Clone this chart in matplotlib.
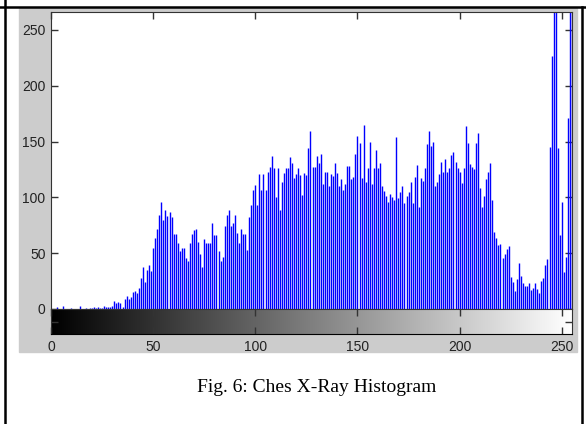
import matplotlib
matplotlib.use("Agg")
import matplotlib.pyplot as plt
import numpy as np
from matplotlib.patches import Rectangle
from matplotlib.lines import Line2D

plt.rcParams['font.family'] = ['Liberation Sans', 'DejaVu Sans']

# histogram counts for grey levels 0..255
counts = [
    0, 0, 0, 2, 0, 0, 3, 0, 0, 0, 1, 0, 0, 0, 3, 0,
    0, 1, 0, 1, 1, 2, 1, 2, 1, 1, 3, 2, 2, 2, 3, 7,
    5, 6, 5, 2, 9, 12, 9, 11, 15, 16, 14, 19, 28, 38, 24, 35,
    39, 34, 55, 64, 72, 84, 96, 80, 89, 83, 87, 82, 67, 67, 59, 52,
    55, 55, 46, 43, 59, 67, 71, 72, 60, 49, 38, 63, 59, 59, 59, 77,
    66, 66, 52, 43, 47, 74, 84, 89, 74, 77, 84, 68, 59, 72, 67, 67,
    53, 82, 93, 107, 111, 93, 121, 107, 121, 107, 123, 127, 137, 126, 100, 126,
    89, 114, 122, 126, 126, 136, 131, 117, 121, 126, 120, 102, 122, 120, 144, 159,
    127, 127, 137, 131, 139, 112, 123, 123, 110, 121, 119, 131, 122, 110, 116, 107,
    112, 128, 128, 116, 118, 139, 155, 149, 117, 165, 114, 126, 150, 112, 126, 142,
    126, 131, 110, 106, 101, 96, 103, 100, 98, 154, 99, 105, 110, 95, 101, 105,
    114, 95, 118, 129, 91, 117, 115, 126, 148, 159, 146, 150, 110, 114, 121, 132,
    123, 134, 123, 126, 138, 141, 132, 126, 123, 113, 126, 164, 149, 130, 127, 125,
    149, 158, 108, 91, 101, 116, 123, 131, 98, 69, 64, 57, 58, 46, 49, 54,
    56, 29, 24, 16, 27, 41, 30, 23, 21, 21, 23, 17, 19, 23, 18, 14,
    25, 28, 39, 45, 145, 227, 300, 290, 144, 66, 96, 33, 47, 171, 310, 290,
]
bins = np.arange(256)
xticks = [0, 50, 100, 150, 200, 250]
yticks = [0, 50, 100, 150, 200, 250]
caption = 'Fig. 6: Ches X-Ray Histogram'

W, H = 586.0, 424.0
fig = plt.figure(figsize=(W / 100, H / 100), dpi=100)
fig.patch.set_facecolor('white')

# matlab grey figure panel
fig.add_artist(Rectangle((19 / W, 1 - 352 / H), 558 / W, 344 / H,
                         transform=fig.transFigure, color='#cccccc', zorder=0))
# table cell borders
fig.add_artist(Line2D([0, 1], [1 - 7 / H] * 2, transform=fig.transFigure, color='k', lw=1.8))
fig.add_artist(Line2D([4.5 / W] * 2, [0, 1], transform=fig.transFigure, color='k', lw=1.8))
fig.add_artist(Line2D([582 / W] * 2, [0, 1 - 7 / H], transform=fig.transFigure, color='k', lw=1.8))

edge = '#333333'
txt = '#222222'

# histogram stems
ax = fig.add_axes([51 / W, 1 - 309 / H, 521 / W, 297 / H])
ax.set_facecolor('white')
ax.vlines(bins, 0, counts, color='#0000ff', lw=1.0)
ax.set_xlim(0, 255)
ax.set_ylim(0, 266)
ax.set_xticks(xticks)
ax.set_yticks(yticks)
ax.tick_params(direction='in', length=5, width=1, top=True, right=True, bottom=False,
               labelbottom=False, labelsize=10, pad=4, color=edge, labelcolor=txt)
for s in ax.spines.values():
    s.set_color(edge)

# grey level bar underneath
cax = fig.add_axes([51 / W, 1 - 334 / H, 521 / W, 25 / H])
grad = np.linspace(0, 1, 256)[None, :]
cax.imshow(grad, cmap='gray', aspect='auto', extent=[0, 255, 0, 1], vmin=0, vmax=1)
cax.set_xlim(0, 255)
cax.set_ylim(0, 1)
cax.set_xticks(xticks)
cax.set_yticks([0.5])
cax.tick_params(direction='in', length=5, width=1, top=True, right=True, left=True,
                labelleft=False, labelsize=10, pad=4, color=edge, labelcolor=txt)
for s in cax.spines.values():
    s.set_color(edge)
cax.spines['bottom'].set_color('k')

fig.text(317 / W, 1 - 388 / H, caption, ha='center', va='center',
         family=['Liberation Serif', 'DejaVu Serif'], fontsize=14, color='k')

fig.savefig('out.png', dpi=100, facecolor='white')
